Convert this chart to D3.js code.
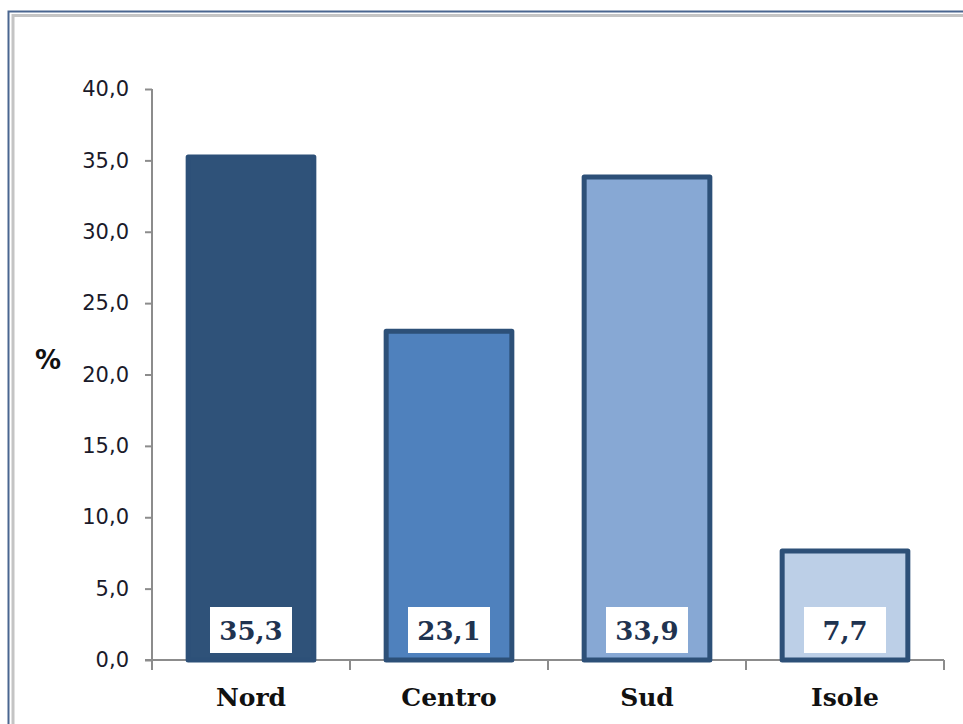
<!DOCTYPE html>
<html>
<head>
<meta charset="utf-8">
<script src="https://cdn.jsdelivr.net/npm/d3@7"></script>
<style>
  body { margin: 0; background: #fff; }
  svg { display: block; }
</style>
</head>
<body>
<svg width="963" height="724"></svg>
<script>
// data
var categories = ["Nord", "Centro", "Sud", "Isole"];
var values = [35.3, 23.1, 33.9, 7.7];
var fills = ["#2F5279", "#4F81BD", "#87A8D4", "#BCCFE7"];
var yTicks = [0, 5, 10, 15, 20, 25, 30, 35, 40];

var svg = d3.select("svg");

// window frame
svg.append("rect").attr("x", 8.5).attr("y", 11.5).attr("width", 1000).attr("height", 800)
    .attr("fill", "none").attr("stroke", "#4A6690").attr("stroke-width", 2);
svg.append("rect").attr("x", 13).attr("y", 15.5).attr("width", 1000).attr("height", 800)
    .attr("fill", "none").attr("stroke", "#C4C4C4").attr("stroke-width", 3);

var plotL = 152, plotR = 944, plotT = 89, plotB = 660;

var scX = d3.scaleBand().domain(categories).range([plotL, plotR]).paddingInner(0.34).paddingOuter(0.17);
var scY = d3.scaleLinear().domain([0, 40]).range([plotB, plotT]);

var fmt = function(v) { return d3.format(".1f")(v).replace(".", ","); };

// y axis
var yAxis = svg.append("g").attr("transform", "translate(" + plotL + ",0)")
    .call(d3.axisLeft(scY).tickValues(yTicks).tickSize(7).tickPadding(16).tickFormat(fmt));
yAxis.select(".domain").attr("stroke", "#8C8C8C").attr("stroke-width", 2).attr("d", "M0," + plotT + "V" + (plotB + 10));
yAxis.selectAll(".tick line").attr("stroke", "#8C8C8C").attr("stroke-width", 2);
yAxis.selectAll(".tick text").attr("fill", "#1A1A2A")
    .style("font-family", "'DejaVu Sans', sans-serif").style("font-size", "21px");

// x axis (ticks at category boundaries)
var bounds = d3.range(categories.length + 1).map(function(i) { return plotL + i * (plotR - plotL) / categories.length; });
svg.append("line").attr("x1", plotL - 7).attr("x2", plotR).attr("y1", plotB).attr("y2", plotB)
    .attr("stroke", "#8C8C8C").attr("stroke-width", 2);
svg.append("g").selectAll("line").data(bounds.slice(1)).enter().append("line")
    .attr("x1", d => d).attr("x2", d => d).attr("y1", plotB).attr("y2", plotB + 10)
    .attr("stroke", "#8C8C8C").attr("stroke-width", 2);

// bars
svg.append("g").selectAll("rect").data(values).enter().append("rect")
    .attr("x", (d, i) => scX(categories[i]) + 2.5)
    .attr("y", d => scY(d) + 1)
    .attr("width", scX.bandwidth() - 5)
    .attr("height", d => scY(0) - scY(d) - 1)
    .attr("fill", (d, i) => fills[i])
    .attr("stroke", "#2D5078").attr("stroke-width", 5).attr("stroke-linejoin", "round");

// value labels in white boxes
var lab = svg.append("g").selectAll("g").data(values).enter().append("g")
    .attr("transform", (d, i) => "translate(" + (scX(categories[i]) + scX.bandwidth() / 2) + ",630)");
lab.append("rect").attr("x", -41).attr("y", -23).attr("width", 82).attr("height", 46).attr("fill", "#fff");
lab.append("text").attr("text-anchor", "middle").attr("y", 10)
    .style("font-family", "'DejaVu Serif', serif").style("font-weight", "bold").style("font-size", "26px")
    .attr("fill", "#1F3350").text(d => fmt(d));

// category labels
svg.append("g").selectAll("text").data(categories).enter().append("text")
    .attr("x", d => scX(d) + scX.bandwidth() / 2).attr("y", 706)
    .attr("text-anchor", "middle")
    .style("font-family", "'DejaVu Serif', serif").style("font-weight", "bold").style("font-size", "25px")
    .attr("fill", "#111").text(d => d);

// y title
svg.append("text").attr("x", 48).attr("y", 369).attr("text-anchor", "middle")
    .style("font-family", "'DejaVu Sans', sans-serif").style("font-weight", "bold").style("font-size", "26px")
    .attr("fill", "#111").text("%");
</script>
</body>
</html>
